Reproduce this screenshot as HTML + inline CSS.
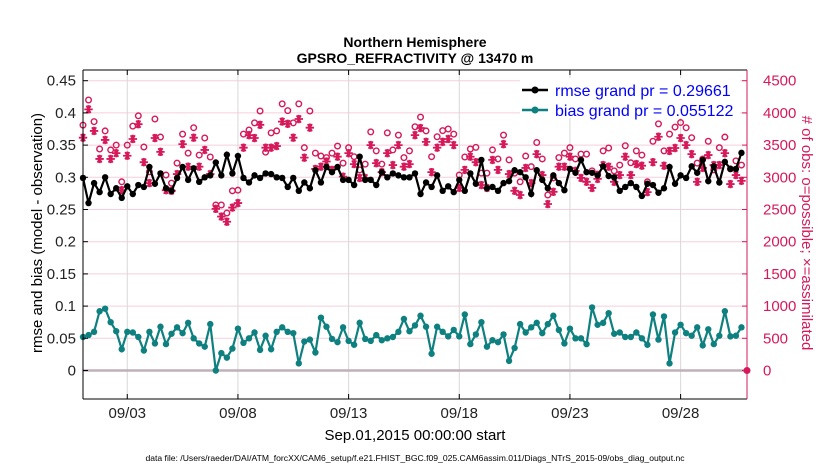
<!DOCTYPE html>
<html><head><meta charset="utf-8"><style>
body{margin:0;background:#fff;}
svg text{font-family:"Liberation Sans",Arial,sans-serif;}
</style></head><body>
<svg id="chart" width="830" height="470" viewBox="0 0 830 470" xmlns="http://www.w3.org/2000/svg">
<rect width="830" height="470" fill="#fff"/>
<g id="grid"></g>
<g id="marks"></g>
<g id="axes"></g>
<text x="415" y="47" text-anchor="middle" font-size="14" font-weight="bold">Northern Hemisphere</text>
<text x="415" y="63" text-anchor="middle" font-size="14" font-weight="bold">GPSRO_REFRACTIVITY @ 13470 m</text>
<text transform="translate(42,233) rotate(-90)" text-anchor="middle" font-size="15">rmse and bias (model - observation)</text>
<text transform="translate(802,233) rotate(90)" text-anchor="middle" font-size="15" fill="#d6195a"># of obs: o=possible; ×=assimilated</text>
<text x="415" y="440" text-anchor="middle" font-size="15">Sep.01,2015 00:00:00 start</text>
<text x="415" y="461" text-anchor="middle" font-size="8.6">data file: /Users/raeder/DAI/ATM_forcXX/CAM6_setup/f.e21.FHIST_BGC.f09_025.CAM6assim.011/Diags_NTrS_2015-09/obs_diag_output.nc</text>
<g>
<rect x="520" y="78" width="220" height="40" fill="#fff"/>
<line x1="522" y1="90" x2="548" y2="90" stroke="#000" stroke-width="2.5"/>
<circle cx="535" cy="90" r="3.5" fill="#000"/>
<text x="555" y="96" font-size="16" fill="#0000ff">rmse grand pr = 0.29661</text>
<line x1="522" y1="110" x2="548" y2="110" stroke="#0e8080" stroke-width="2.5"/>
<circle cx="535" cy="110" r="3.5" fill="#0e8080"/>
<text x="555" y="116" font-size="16" fill="#0000ff">bias grand pr = 0.055122</text>
</g>
</svg>
<script>
const rmse=[0.299,0.26,0.291,0.277,0.300,0.274,0.283,0.268,0.286,0.274,0.288,0.285,0.316,0.29,0.306,0.283,0.279,0.299,0.316,0.296,0.314,0.293,0.30,0.303,0.323,0.303,0.335,0.306,0.333,0.299,0.292,0.303,0.299,0.306,0.305,0.30,0.299,0.285,0.299,0.279,0.292,0.283,0.311,0.292,0.316,0.308,0.316,0.296,0.296,0.288,0.332,0.296,0.296,0.288,0.308,0.30,0.306,0.303,0.30,0.30,
0.306,0.274,0.292,0.285,0.303,0.279,0.286,0.277,0.296,0.279,0.306,0.29,0.327,0.283,0.285,0.279,0.291,0.294,0.311,0.308,0.30,0.274,0.311,0.296,0.283,0.303,0.291,0.280,0.313,0.307,0.327,0.308,0.307,0.303,0.317,0.302,0.30,0.279,0.285,0.291,0.285,0.271,0.29,0.288,0.276,0.283,0.316,0.29,0.303,0.299,0.317,0.307,0.327,0.294,0.317,0.292,0.324,0.313,0.313,0.338];
const bias=[0.052,0.055,0.060,0.092,0.096,0.075,0.061,0.033,0.060,0.059,0.052,0.031,0.060,0.042,0.068,0.041,0.057,0.067,0.058,0.074,0.050,0.042,0.037,0.072,0.0,0.027,0.020,0.034,0.065,0.043,0.050,0.059,0.032,0.054,0.033,0.060,0.067,0.060,0.058,0.011,0.045,0.048,0.028,0.082,0.068,0.049,0.044,0.067,0.046,0.040,0.074,0.049,0.046,0.055,0.047,0.050,0.052,0.060,0.080,0.061,0.070,0.085,0.068,0.026,0.068,0.060,0.053,0.063,0.053,0.087,0.041,0.056,0.075,0.037,0.047,0.044,0.056,0.015,0.035,0.072,0.059,0.067,0.074,0.058,0.072,0.085,0.063,0.042,0.065,0.050,0.050,0.041,0.098,0.071,0.074,0.089,0.057,0.059,0.052,0.052,0.059,0.050,0.040,0.087,0.048,0.084,0.011,0.059,0.071,0.058,0.054,0.067,0.039,0.064,0.041,0.054,0.092,0.053,0.054,0.067];
const possible=[3810,4200,3865,3440,3720,3425,3500,2930,3500,3795,3955,3470,3085,3905,3625,3035,2910,3220,3670,3375,3770,3345,3610,3315,2570,2570,2445,2790,2800,3670,
3735,3845,4030,3390,3690,3720,4140,4035,3845,4140,3460,4030,3375,3330,3305,3375,3485,3220,3460,3320,3115,3205,3705,3410,3205,3690,3425,3655,3305,3410,
3785,3935,3720,3320,3630,3725,3750,3670,3035,3315,3440,3465,3065,3065,3425,3285,3655,3270,3065,2930,3330,3165,3540,3285,2725,2990,3305,3375,3460,3285,
3360,3360,3100,3050,3410,3455,3100,3190,3490,3225,3410,3345,2930,3560,3830,3410,3670,3780,3850,3770,3615,3220,3285,3560,3115,3460,3625,3130,3255,3190];
const assimilated=[3615,4055,3720,3285,3580,3285,3375,2800,3335,3595,3825,3235,2910,3610,3395,2800,2790,3050,3515,3165,3615,3165,3425,3050,2510,2390,2310,2530,2600,3460,
3655,3610,3815,3460,3460,3485,3865,3830,3615,3905,3305,3770,3130,3165,3245,3115,3320,3010,3375,3205,2990,2990,3500,3220,3080,3375,3190,3500,3165,3205,
3655,3765,3550,3080,3460,3550,3595,3500,2835,3115,3320,3235,2880,2835,3270,3115,3515,3050,2790,2725,3145,2910,3360,3035,2585,2775,3165,3165,3320,3100,
2990,2930,2835,2975,3190,3165,2930,3035,3320,3035,3205,3180,2770,3235,3630,3180,3410,3455,3610,3500,3360,2930,3145,3345,3190,3190,3375,2895,3035,2945];
const leftTicks=["0","0.05","0.1","0.15","0.2","0.25","0.3","0.35","0.4","0.45"];
const leftTickVals=[0,0.05,0.1,0.15,0.2,0.25,0.3,0.35,0.4,0.45];
const rightTickVals=[0,500,1000,1500,2000,2500,3000,3500,4000,4500];
const dateLabels=["09/03","09/08","09/13","09/18","09/23","09/28"];
const dateDays=[2,7,12,17,22,27];

const NS="http://www.w3.org/2000/svg";
const X0=83,X1=747,Y0=70,Y1=399;
const xDay=d=>X0+d*(X1-X0)/30;
const yL=v=>370.5-v*644;
const yR=c=>370.5-c*0.0644;
function mk(tag,attrs,parent){const e=document.createElementNS(NS,tag);for(const k in attrs)e.setAttribute(k,attrs[k]);parent.appendChild(e);return e;}
const grid=document.getElementById('grid'),marks=document.getElementById('marks'),axes=document.getElementById('axes');
rightTickVals.forEach(c=>{const l=mk('line',{x1:X0,x2:X1,y1:yR(c),y2:yR(c),stroke:'#f6cfdc','stroke-width':1},grid);

});
dateDays.forEach(d=>{const l=mk('line',{x1:xDay(d),x2:xDay(d),y1:Y0,y2:Y1,stroke:'#d8d8d8','stroke-width':1},grid);

});
const z=mk('line',{x1:X0,x2:X1,y1:yL(0),y2:yL(0),stroke:'#c0b0b8','stroke-width':2.5},grid);


const magenta='#d6195a';
possible.forEach((c,i)=>{const e=mk('circle',{cx:xDay(i/4),cy:yR(c),r:2.8,fill:'none',stroke:magenta,'stroke-width':1.4},marks);

});
assimilated.forEach((c,i)=>{const x=xDay(i/4),y=yR(c),r=4.2,h=r*0.866,q=r*0.5;
const d=`M${x-r},${y}L${x+r},${y}M${x-q},${y-h}L${x+q},${y+h}M${x-q},${y+h}L${x+q},${y-h}M${x},${y-r}L${x},${y+r}`;
const e=mk('path',{d:d,stroke:magenta,'stroke-width':1.8,fill:'none'},marks);

});
function series(vals,color,name){
const p=mk('polyline',{points:vals.map((v,i)=>xDay(i/4)+','+yL(v)).join(' '),fill:'none',stroke:color,'stroke-width':2.2},marks);


vals.forEach((v,i)=>{const c=mk('circle',{cx:xDay(i/4),cy:yL(v),r:3.2,fill:color},marks);

});}
series(rmse,'#000','rmse');
series(bias,'#0e8080','bias');
const ed=mk('circle',{cx:X1,cy:yR(0),r:3.5,fill:magenta},marks);


const la=mk('line',{x1:X0,x2:X0,y1:Y0,y2:Y1,stroke:'#000','stroke-width':1},axes);


const ta=mk('line',{x1:X0,x2:X1,y1:Y0,y2:Y0,stroke:'#000','stroke-width':1},axes);


const ba=mk('line',{x1:X0,x2:X1,y1:Y1,y2:Y1,stroke:'#000','stroke-width':1},axes);


const ra=mk('line',{x1:X1,x2:X1,y1:Y0,y2:Y1,stroke:magenta,'stroke-width':1},axes);


leftTickVals.forEach((v,i)=>{const y=yL(v);
const t=mk('line',{x1:X0,x2:X0+5,y1:y,y2:y,stroke:'#000'},axes);


const l=mk('text',{x:X0-7,y:y+5,'text-anchor':'end','font-size':15,fill:'#222'},axes);l.textContent=leftTicks[i];

});
rightTickVals.forEach(c=>{const y=yR(c);
const t=mk('line',{x1:X1-5,x2:X1,y1:y,y2:y,stroke:magenta},axes);


const l=mk('text',{x:X1+16,y:y+5,'text-anchor':'start','font-size':15,fill:magenta},axes);l.textContent=String(c);

});
dateDays.forEach((d,i)=>{const x=xDay(d);
const t=mk('line',{x1:x,x2:x,y1:Y1-5,y2:Y1,stroke:'#000'},axes);


const t2=mk('line',{x1:x,x2:x,y1:Y0,y2:Y0+5,stroke:'#000'},axes);


const l=mk('text',{x:x,y:418,'text-anchor':'middle','font-size':15,fill:'#222'},axes);l.textContent=dateLabels[i];

});
</script>
</body></html>
